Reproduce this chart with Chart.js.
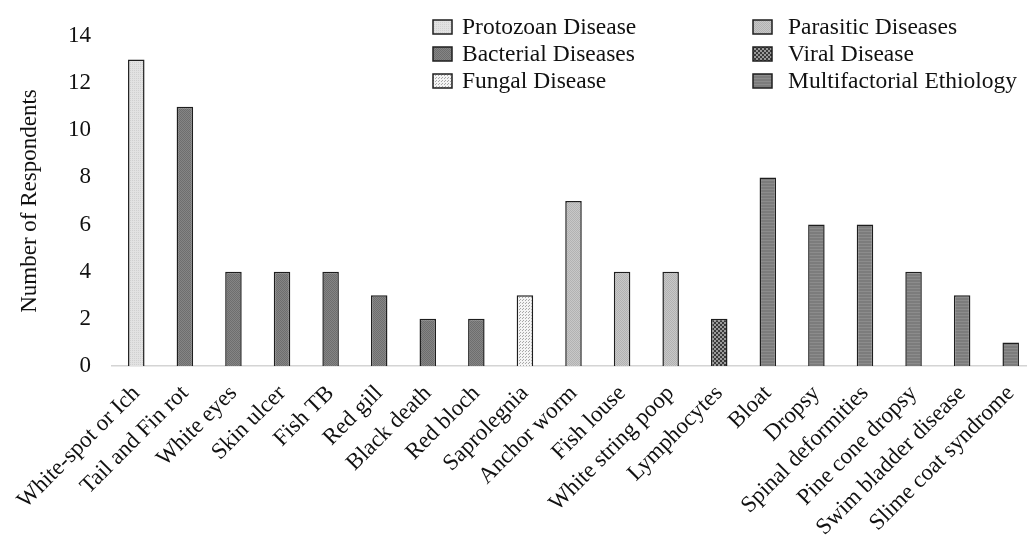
<!DOCTYPE html>
<html>
<head>
<meta charset="utf-8">
<script src="https://cdn.jsdelivr.net/npm/chart.js@4.4.1/dist/chart.umd.min.js"></script>
<style>
    html, body { margin: 0; padding: 0; background: #ffffff; }
    #chart_box { width: 1027px; height: 540px; }
</style>
</head>
<body>
<div id="chart_box"><canvas id="disease_chart"></canvas></div>
<script>
const disease_labels = [
    "White-spot or Ich", "Tail and Fin rot", "White eyes", "Skin ulcer", "Fish TB",
    "Red gill", "Black death", "Red bloch", "Saprolegnia", "Anchor worm",
    "Fish louse", "White string poop", "Lymphocytes", "Bloat", "Dropsy",
    "Spinal deformities", "Pine cone dropsy", "Swim bladder disease", "Slime coat syndrome"
];
const respondent_counts = [13, 11, 4, 4, 4, 3, 2, 2, 3, 7, 4, 4, 2, 8, 6, 6, 4, 3, 1];
// index into group_names for every disease
const disease_groups = [0, 1, 1, 1, 1, 1, 1, 1, 2, 3, 3, 3, 4, 5, 5, 5, 5, 5, 5];
const group_names = [
    "Protozoan Disease", "Bacterial Diseases", "Fungal Disease",
    "Parasitic Diseases", "Viral Disease", "Multifactorial Ethiology"
];
const y_ticks = [0, 2, 4, 6, 8, 10, 12, 14];

const serif_font = "'Liberation Serif', 'Times New Roman', serif";

function makePattern(base_colour, dot_colour, cell, draw_dots) {
    let tile = document.createElement("canvas");
    tile.width = cell;
    tile.height = cell;
    let tile_context = tile.getContext("2d");
    tile_context.fillStyle = base_colour;
    tile_context.fillRect(0, 0, cell, cell);
    tile_context.fillStyle = dot_colour;
    draw_dots(tile_context);
    return document.createElement("canvas").getContext("2d").createPattern(tile, "repeat");
}

const group_fills = [
    makePattern("#e2e2e2", "#d0d0d0", 2, c => { c.fillRect(0, 0, 1, 1); }),
    makePattern("#858585", "#6e6e6e", 2, c => { c.fillRect(0, 0, 1, 1); c.fillRect(1, 1, 1, 1); }),
    makePattern("#f4f4f4", "#a8a8a8", 3, c => { c.fillRect(0, 0, 1, 1); c.fillRect(1, 2, 1, 1); }),
    makePattern("#c8c8c8", "#b2b2b2", 2, c => { c.fillRect(0, 0, 1, 1); c.fillRect(1, 1, 1, 1); }),
    makePattern("#9a9a9a", "#3a3a3a", 4, c => { c.fillRect(0, 0, 2, 2); c.fillRect(2, 2, 2, 2); }),
    makePattern("#7c7c7c", "#8c8c8c", 3, c => { c.fillRect(0, 0, 3, 1); })
];

let datasets = [];
for (let g = 0; g < group_names.length; g++) {
    datasets.push({
        label: group_names[g],
        data: respondent_counts.map((value, i) => disease_groups[i] == g ? value : null),
        backgroundColor: group_fills[g],
        borderColor: "#1e1e1e",
        borderWidth: 1.5,
        borderSkipped: "bottom",
        grouped: false,
        barPercentage: 0.34,
        categoryPercentage: 1.0
    });
}

// the original figure is cropped on the right, so the x axis runs a little past the canvas edge
const stretch_x_axis = {
    id: "stretch_x_axis",
    afterLayout(chart) {
        let x_scale = chart.scales.x;
        x_scale.right = chart.width + 8;
        x_scale.width = x_scale.right - x_scale.left;
        x_scale.configure();
    }
};

// two column legend drawn over the top right of the plot
const two_column_legend = {
    id: "two_column_legend",
    afterDraw(chart) {
        let ctx = chart.ctx;
        let column_x = [433, 753];
        let text_gap = [29, 35];
        let row_y = [27, 54, 81];
        ctx.save();
        ctx.font = "23.5px " + serif_font;
        ctx.textBaseline = "middle";
        ctx.textAlign = "left";
        for (let g = 0; g < group_names.length; g++) {
            let col = Math.floor(g / 3);
            let row = g % 3;
            let x = column_x[col];
            let y = row_y[row];
            ctx.fillStyle = group_fills[g];
            ctx.fillRect(x, y - 7, 19, 14);
            ctx.strokeStyle = "#1e1e1e";
            ctx.lineWidth = 1.5;
            ctx.strokeRect(x, y - 7, 19, 14);
            ctx.fillStyle = "#111111";
            ctx.fillText(group_names[g], x + text_gap[col], y + 1);
        }
        ctx.restore();
    }
};

new Chart(document.getElementById("disease_chart").getContext("2d"), {
    type: "bar",
    data: {
        labels: disease_labels,
        datasets: datasets
    },
    options: {
        responsive: true,
        maintainAspectRatio: false,
        animation: false,
        layout: { padding: { top: 36, right: 0, left: 0, bottom: 0 } },
        plugins: {
            legend: { display: false },
            tooltip: { enabled: false }
        },
        scales: {
            x: {
                offset: true,
                grid: { display: false, drawTicks: false },
                border: { display: true, color: "#d4d4d4", width: 1.5 },
                ticks: {
                    autoSkip: false,
                    minRotation: 45,
                    maxRotation: 45,
                    padding: 14,
                    color: "#111111",
                    font: { size: 23, family: serif_font }
                },
                afterFit: function(scale) {
                    scale.height = 174;
                    scale.paddingRight = 0;
                    scale.paddingLeft = 0;
                }
            },
            y: {
                min: 0,
                max: 14,
                afterBuildTicks: function(scale) {
                    scale.ticks = y_ticks.map(v => ({ value: v }));
                },
                grid: { display: false },
                border: { display: false },
                ticks: {
                    padding: 13,
                    color: "#111111",
                    font: { size: 23, family: serif_font }
                },
                title: {
                    display: true,
                    text: "Number of Respondents",
                    color: "#111111",
                    font: { size: 23, family: serif_font },
                    padding: { top: 16, bottom: 0 }
                },
                afterFit: function(scale) {
                    scale.width = 112;
                    scale.paddingTop = 0;
                    scale.paddingBottom = 0;
                }
            }
        }
    },
    plugins: [stretch_x_axis, two_column_legend]
});
</script>
</body>
</html>
